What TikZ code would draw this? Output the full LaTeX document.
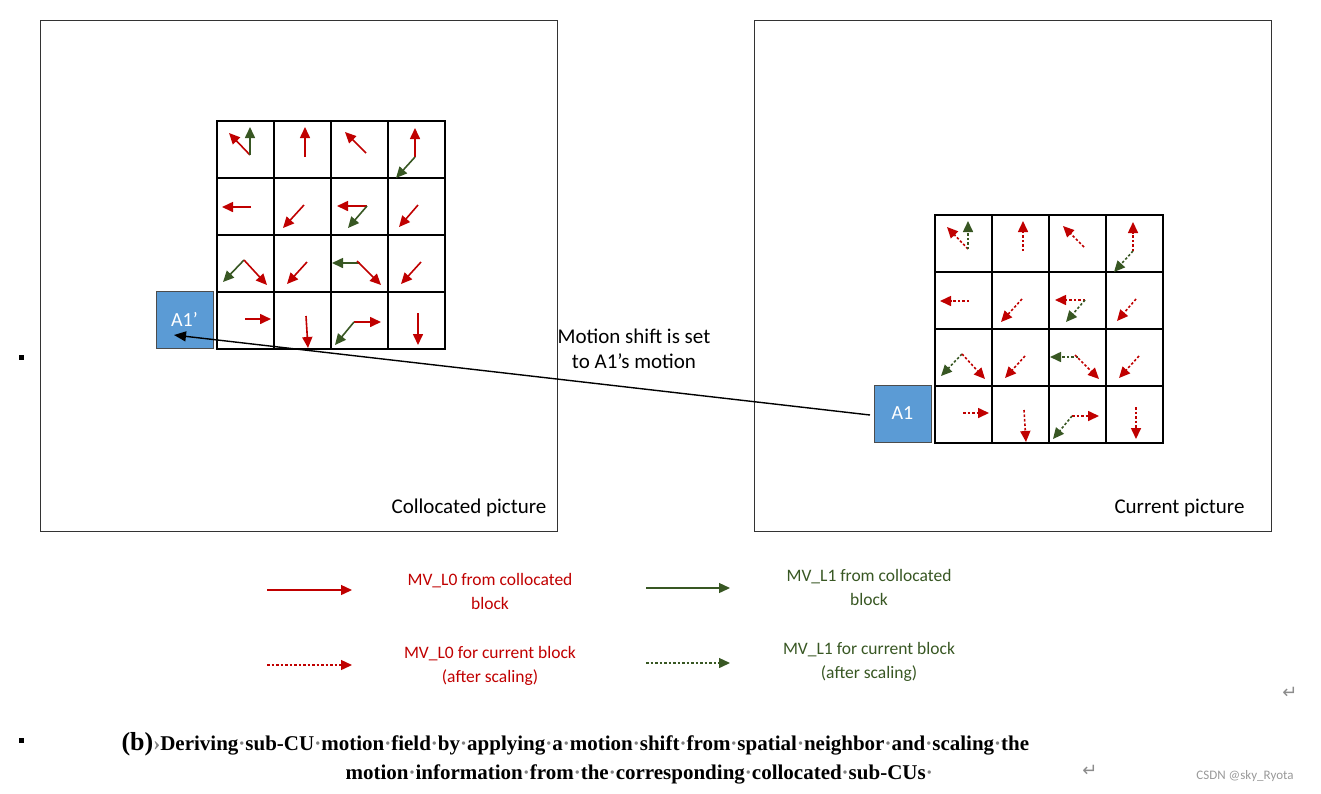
\documentclass[tikz,border=0pt]{standalone}
\usepackage{fontspec}
\setmainfont{Carlito}
\newfontfamily\capfont{Liberation Serif}
\newfontfamily\symfont{DejaVu Sans}
\usetikzlibrary{arrows.meta}
\definecolor{mvred}{HTML}{C00000}
\definecolor{mvgreen}{HTML}{385723}
\definecolor{boxblue}{HTML}{5B9BD5}
\tikzset{
 frame/.style={draw=black!80,line width=0.8pt},
 cell/.style={draw=black,line width=1.3pt},
 mv/.style={line width=1.6pt,-{Triangle[length=11pt,width=10pt]}},
 r/.style={mv,mvred}, g/.style={mv,mvgreen},
 dsh/.style={dash pattern=on 2.5pt off 2pt},
 blk/.style={fill=boxblue,draw=black!70,line width=0.6pt,minimum size=57pt,inner sep=0pt,text=white,font=\fontsize{20}{20}\selectfont},
 lbl/.style={font=\fontsize{21}{25}\selectfont,align=center},
 leg/.style={font=\fontsize{17.5}{24}\selectfont,align=center},
}
\newcommand{\mvfield}[1]{%
 \foreach \i in {0,...,3}{\foreach \j in {0,...,3}{\draw[cell] (217+57*\i,121+57*\j) rectangle ++(57,57);}}
 \draw[r,#1] (250,155)--(229,133); \draw[g,#1] (250,155)--(250,127);
 \draw[r,#1] (305,157)--(305,127);
 \draw[r,#1] (366,153)--(345,132);
 \draw[r,#1] (415,157)--(415,128); \draw[g,#1] (415,157)--(396,178);
 \draw[r,#1] (251,207)--(222,207);
 \draw[r,#1] (304,205)--(283,228);
 \draw[r,#1] (367,206)--(337,206); \draw[g,#1] (367,206)--(348,228);
 \draw[r,#1] (418,205)--(399,227);
 \draw[g,#1] (244,260)--(223,282); \draw[r,#1] (244,260)--(267,285);
 \draw[r,#1] (307,262)--(287,284);
 \draw[g,#1] (360,263)--(332,263); \draw[r,#1] (357,261)--(381,285);
 \draw[r,#1] (421,262)--(401,284);
 \draw[r,#1] (245,319)--(271,319);
 \draw[r,#1] (306,316)--(308,348);
 \draw[r,#1] (354,322)--(381,322); \draw[g,#1] (354,322)--(335,345);
 \draw[r,#1] (418,313)--(418,345);
}
\begin{document}
\begin{tikzpicture}[x=1pt,y=-1pt]
\useasboundingbox (0,0) rectangle (1321,793);
\draw[frame] (40,20) rectangle (557,531);
\draw[frame] (754,20) rectangle (1271,531);
\mvfield{}
\begin{scope}[shift={(718,94)}]\mvfield{dsh}\end{scope}
\node[blk] (a1p) at (184.5,319.5) {A1'};
\node[blk] (a1) at (902.5,413.5) {A1};
\node[lbl,anchor=south east] (cp) at (550,520) {Collocated picture};
\node[lbl,anchor=south east] (cu) at (1248,520) {Current picture};
\coordinate (s) at (870,415);
\coordinate (e) at (174,335);
\draw[line width=1.4pt,-{Triangle[length=12pt,width=10pt]}] (s) -- (e);
\node[lbl] (ms) at (634,349) {Motion shift is set\\to A1's motion};
\coordinate (l1a) at (267,590); \coordinate (l1b) at (352,590);
\draw[r,line width=1.4pt] (l1a)--(l1b);
\node[leg,text=mvred] (t1) at (490,591) {MV\_L0 from collocated\\block};
\coordinate (l2a) at (646,588); \coordinate (l2b) at (730,588);
\draw[g,line width=1.4pt] (l2a)--(l2b);
\node[leg,text=mvgreen] (t2) at (869,587) {MV\_L1 from collocated\\block};
\coordinate (l3a) at (267,665); \coordinate (l3b) at (352,665);
\draw[r,dsh,line width=1.4pt] (l3a)--(l3b);
\node[leg,text=mvred] (t3) at (490,666) {MV\_L0 for current block\\(after scaling)};
\coordinate (l4a) at (646,663); \coordinate (l4b) at (730,663);
\draw[g,dsh,line width=1.4pt] (l4a)--(l4b);
\node[leg,text=mvgreen] (t4) at (869,662) {MV\_L1 for current block\\(after scaling)};
\node[fill=black,minimum size=5pt,inner sep=0pt] (b1) at (21,357) {};
\node[fill=black,minimum size=5pt,inner sep=0pt] (b2) at (21,740) {};
\node[text=black!45,font=\symfont\fontsize{18}{18}\selectfont] (ret1) at (1290,693) {↵};
\node[font=\capfont\bfseries\fontsize{21}{21}\selectfont,anchor=west] (c1) at (118,744) {{\fontsize{26}{26}\selectfont (b)}\textcolor{black!50}{›}Deriving\textcolor{black!50}{·}sub-CU\textcolor{black!50}{·}motion\textcolor{black!50}{·}field\textcolor{black!50}{·}by\textcolor{black!50}{·}applying\textcolor{black!50}{·}a\textcolor{black!50}{·}motion\textcolor{black!50}{·}shift\textcolor{black!50}{·}from\textcolor{black!50}{·}spatial\textcolor{black!50}{·}neighbor\textcolor{black!50}{·}and\textcolor{black!50}{·}scaling\textcolor{black!50}{·}the};
\node[font=\capfont\bfseries\fontsize{21}{21}\selectfont,anchor=west] (c2) at (342,774) {motion\textcolor{black!50}{·}information\textcolor{black!50}{·}from\textcolor{black!50}{·}the\textcolor{black!50}{·}corresponding\textcolor{black!50}{·}collocated\textcolor{black!50}{·}sub-CUs\textcolor{black!50}{·}};
\node[text=black!45,font=\symfont\fontsize{18}{18}\selectfont] (ret2) at (1090,771) {↵};
\node[text=black!40,font=\fontsize{13}{13}\selectfont] (wm) at (1245,776) {CSDN @sky\_Ryota};
\end{tikzpicture}
\end{document}
